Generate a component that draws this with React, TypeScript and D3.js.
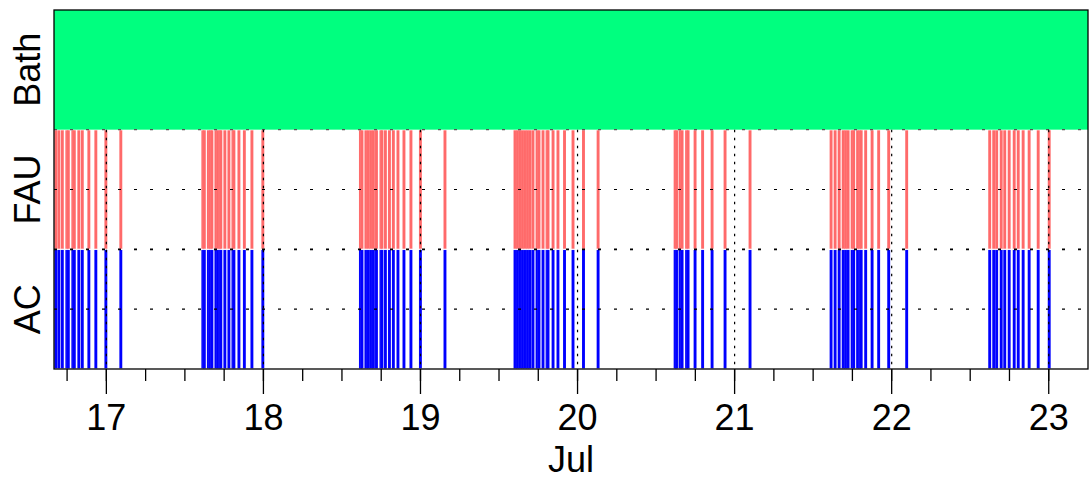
import React from "react";
import * as d3 from "d3";

// ---------- data ----------
const tracks = ["Bath", "FAU", "AC"];
const eventTracks = ["FAU", "AC"];
const trackColors = ["#00FF7F", "#FF6A6A", "#0000FF"];

// start times of detected events (same events on FAU and AC)
const eventTimes = [
  "07-16 16:03", "07-16 16:31", "07-16 17:03", "07-16 17:44", "07-16 17:58", "07-16 18:39",
  "07-16 18:53", "07-16 19:34", "07-16 20:06", "07-16 21:06", "07-16 22:10", "07-16 23:42",
  "07-17 01:59",
  "07-17 14:31", "07-17 14:45", "07-17 15:22", "07-17 15:40", "07-17 15:54", "07-17 16:31",
  "07-17 16:49", "07-17 17:07", "07-17 17:16", "07-17 17:53", "07-17 18:30", "07-17 19:07",
  "07-17 19:16", "07-17 20:02", "07-17 20:52", "07-17 22:01", "07-17 23:41",
  "07-18 14:36", "07-18 14:50", "07-18 15:26", "07-18 15:49", "07-18 16:12", "07-18 16:35",
  "07-18 17:03", "07-18 17:44", "07-18 17:53", "07-18 18:25", "07-18 19:02", "07-18 19:38",
  "07-18 20:20", "07-18 21:15", "07-18 22:19", "07-18 23:46", "07-19 03:31",
  "07-19 14:13", "07-19 14:36", "07-19 14:59", "07-19 15:22", "07-19 15:45", "07-19 16:08",
  "07-19 16:31", "07-19 16:58", "07-19 17:35", "07-19 17:53", "07-19 18:30", "07-19 19:07",
  "07-19 19:16", "07-19 20:02", "07-19 20:47", "07-19 21:47", "07-19 23:05", "07-20 00:41",
  "07-20 02:55",
  "07-20 14:41", "07-20 14:54", "07-20 15:26", "07-20 15:45", "07-20 16:26", "07-20 16:40",
  "07-20 17:44", "07-20 18:53", "07-20 20:20", "07-20 22:19", "07-21 02:08",
  "07-21 14:31", "07-21 15:08", "07-21 15:45", "07-21 16:22", "07-21 16:44", "07-21 17:07",
  "07-21 17:44", "07-21 17:58", "07-21 18:34", "07-21 18:53", "07-21 19:07", "07-21 19:48",
  "07-21 20:47", "07-21 21:47", "07-21 23:19", "07-22 02:04",
  "07-22 14:45", "07-22 15:22", "07-22 15:49", "07-22 16:31", "07-22 17:03", "07-22 17:44",
  "07-22 18:30", "07-22 19:07", "07-22 19:52", "07-22 20:47", "07-22 22:10", "07-22 23:51",
];
const eventMinutes = 27;

const domainTimes = ["07-16 16:00", "07-23 06:00"];
const dayTicks = ["07-17 00:00", "07-18 00:00", "07-19 00:00", "07-20 00:00", "07-21 00:00", "07-22 00:00", "07-23 00:00"];
const dayLabels = ["17", "18", "19", "20", "21", "22", "23"];
const xAxisTitle = "Jul";

// ---------- helpers ----------
const parse = (s: string) => d3.utcParse("%Y-%m-%d %H:%M")("2023-" + s) as Date;

export default function App() {
  const W = 1090, H = 480;
  const left = 54, right = 1088, top = 10, bottom = 369;
  const font = "'Liberation Sans', Arial, Helvetica, sans-serif";

  const x = d3.scaleUtc().domain(domainTimes.map(parse)).range([left, right]);
  const y = d3.scaleBand<string>().domain(tracks).range([top, bottom]).padding(0);
  const bw = y.bandwidth();

  const events = eventTimes.map(parse);
  const d0 = x.domain()[0], d1 = x.domain()[1];
  const minor = d3.utcHour.every(6)!.range(d0, d1);
  const major = dayTicks.map(parse);

  const hGrid = [y("FAU")!, y("FAU")! + bw / 2, y("AC")!, y("AC")! + bw / 2];

  return (
    <svg width={W} height={H} style={{ display: "block", position: "absolute", left: 0, top: 0 }}>
      <rect x={0} y={0} width={W} height={H} fill="#fff" />
      <defs>
        <clipPath id="plotclip">
          <rect x={left} y={top} width={right - left} height={bottom - top} />
        </clipPath>
      </defs>
      <g clipPath="url(#plotclip)">
        {/* Bath: continuous */}
        <rect x={left} y={y("Bath")!} width={right - left} height={bw} fill={trackColors[0]} />
        {eventTracks.map((t) => {
          const ci = tracks.indexOf(t);
          return (
            <g key={t}>
              {events.map((e, i) => {
                const x0 = x(e);
                const x1 = x(d3.utcMinute.offset(e, eventMinutes));
                return (
                  <rect key={i} x={x0} y={y(t)! + 0.6} width={x1 - x0} height={bw - 1.2}
                    fill={trackColors[ci]} stroke="#fff" strokeOpacity={0.2} strokeWidth={0.3} />
                );
              })}
            </g>
          );
        })}
        {/* grid */}
        {hGrid.map((gy, i) => (
          <line key={"h" + i} x1={left} x2={right} y1={gy} y2={gy} stroke={i === 0 ? "#555" : "#000"}
            strokeWidth={i === 2 ? 1.6 : 1.2} strokeDasharray="3,13" />
        ))}
        {major.map((d, i) => (
          <line key={"v" + i} x1={x(d)} x2={x(d)} y1={y("FAU")!} y2={bottom} stroke="#000"
            strokeWidth={1.2} strokeDasharray="2.5,5.5" />
        ))}
      </g>
      {/* box */}
      <rect x={left} y={top} width={right - left} height={bottom - top} fill="none" stroke="#000" strokeWidth={1.3} />
      {/* ticks */}
      {minor.map((d, i) => (
        <line key={"m" + i} x1={x(d)} x2={x(d)} y1={bottom} y2={bottom + 12} stroke="#000" strokeWidth={1.3} />
      ))}
      {major.map((d, i) => (
        <line key={"M" + i} x1={x(d)} x2={x(d)} y1={bottom} y2={bottom + 25} stroke="#000" strokeWidth={1.3} />
      ))}
      {major.map((d, i) => (
        <text key={"l" + i} x={x(d)} y={430} textAnchor="middle" fontFamily={font} fontSize={36} fill="#000">
          {dayLabels[i]}
        </text>
      ))}
      <text x={(left + right) / 2} y={472} textAnchor="middle" fontFamily={font} fontSize={36} fill="#000">
        {xAxisTitle}
      </text>
      {tracks.map((t) => (
        <text key={t} transform={`translate(40,${y(t)! + bw / 2}) rotate(-90)`} textAnchor="middle"
          fontFamily={font} fontSize={36} fill="#000">
          {t}
        </text>
      ))}
    </svg>
  );
}
